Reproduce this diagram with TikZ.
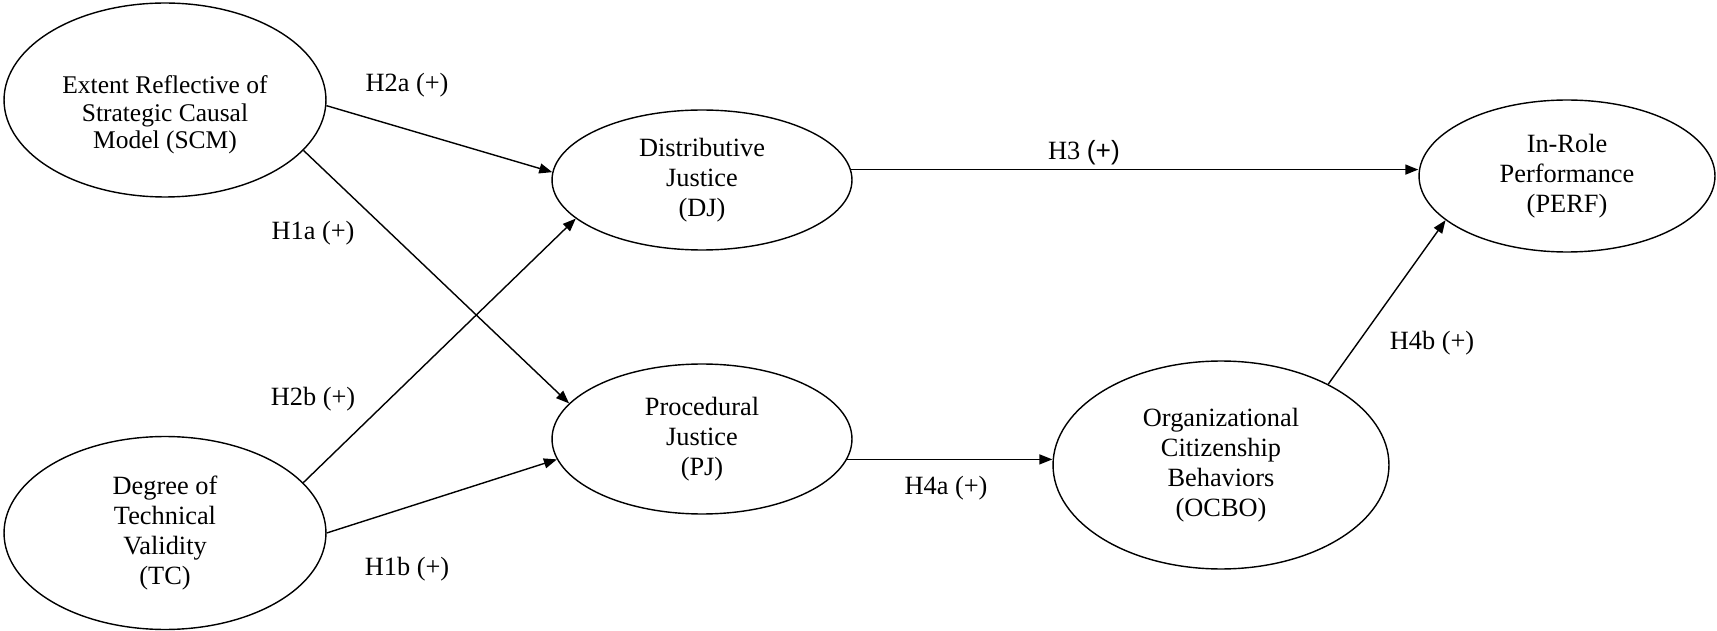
\documentclass[tikz,border=0pt]{standalone}
\usepackage{fontspec}
\setmainfont{Liberation Serif}
\setsansfont{Liberation Sans}
\usetikzlibrary{shapes,arrows.meta}

\begin{document}
\begin{tikzpicture}[x=0.02cm,y=-0.02cm,
    >={Triangle[length=0.26cm,width=0.2cm]},
    construct/.style={draw, ellipse, line width=0.8pt, inner sep=0pt, align=center,
      font=\fontsize{15}{17}\selectfont},
    hyp/.style={font=\fontsize{15}{17}\selectfont},
    hypline/.style={->, line width=0.8pt}]
    \useasboundingbox (0,0) rectangle (1717,631);
    \node[construct, minimum width=6.44cm, minimum height=3.88cm,
      font=\fontsize{14.5}{15.5}\selectfont] (scm) at (165,100)
      {\rule{0pt}{27pt}Extent Reflective of\\Strategic Causal\\Model (SCM)};
    \node[construct, minimum width=6.44cm, minimum height=3.86cm] (tc) at (165,533)
      {Degree of\\Technical\\Validity\\(TC)};
    \node[construct, minimum width=6.0cm, minimum height=2.8cm] (dj) at (702,180)
      {Distributive\\Justice\\(DJ)};
    \node[construct, minimum width=6.0cm, minimum height=3.0cm] (pj) at (702,439)
      {Procedural\\Justice\\(PJ)};
    \node[construct, minimum width=6.72cm, minimum height=4.16cm] (ocbo) at (1221,465)
      {Organizational\\Citizenship\\Behaviors\\(OCBO)};
    \node[construct, minimum width=5.92cm, minimum height=3.04cm] (perf) at (1567,176)
      {In-Role\\Performance\\(PERF)};
    % hypothesized paths
    \draw[hypline] (scm.-2) -- (dj.177);
    \draw[hypline] (scm.-20) -- (pj.165);
    \draw[hypline] (tc.20) -- (dj.197);
    \draw[hypline] (tc.0) -- (pj.188);
    \draw[hypline] (dj.4) -- (dj.4 -| perf.west);
    \draw[hypline] (pj.-8) -- (pj.-8 -| ocbo.west);
    \draw[hypline] (ocbo.37) -- (perf.200);
    % labels
    \node[hyp] (h2a) at (407,85) {H2a (+)};
    \node[hyp] (h1a) at (313,233) {H1a (+)};
    \node[hyp] (h2b) at (313,399) {H2b (+)};
    \node[hyp] (h1b) at (407,569) {H1b (+)};
    \node[hyp] (h3) at (1084,153) {H3 {\sffamily(+)}};
    \node[hyp] (h4a) at (946,488) {H4a (+)};
    \node[hyp] (h4b) at (1432,343) {H4b (+)};
\end{tikzpicture}
\end{document}
